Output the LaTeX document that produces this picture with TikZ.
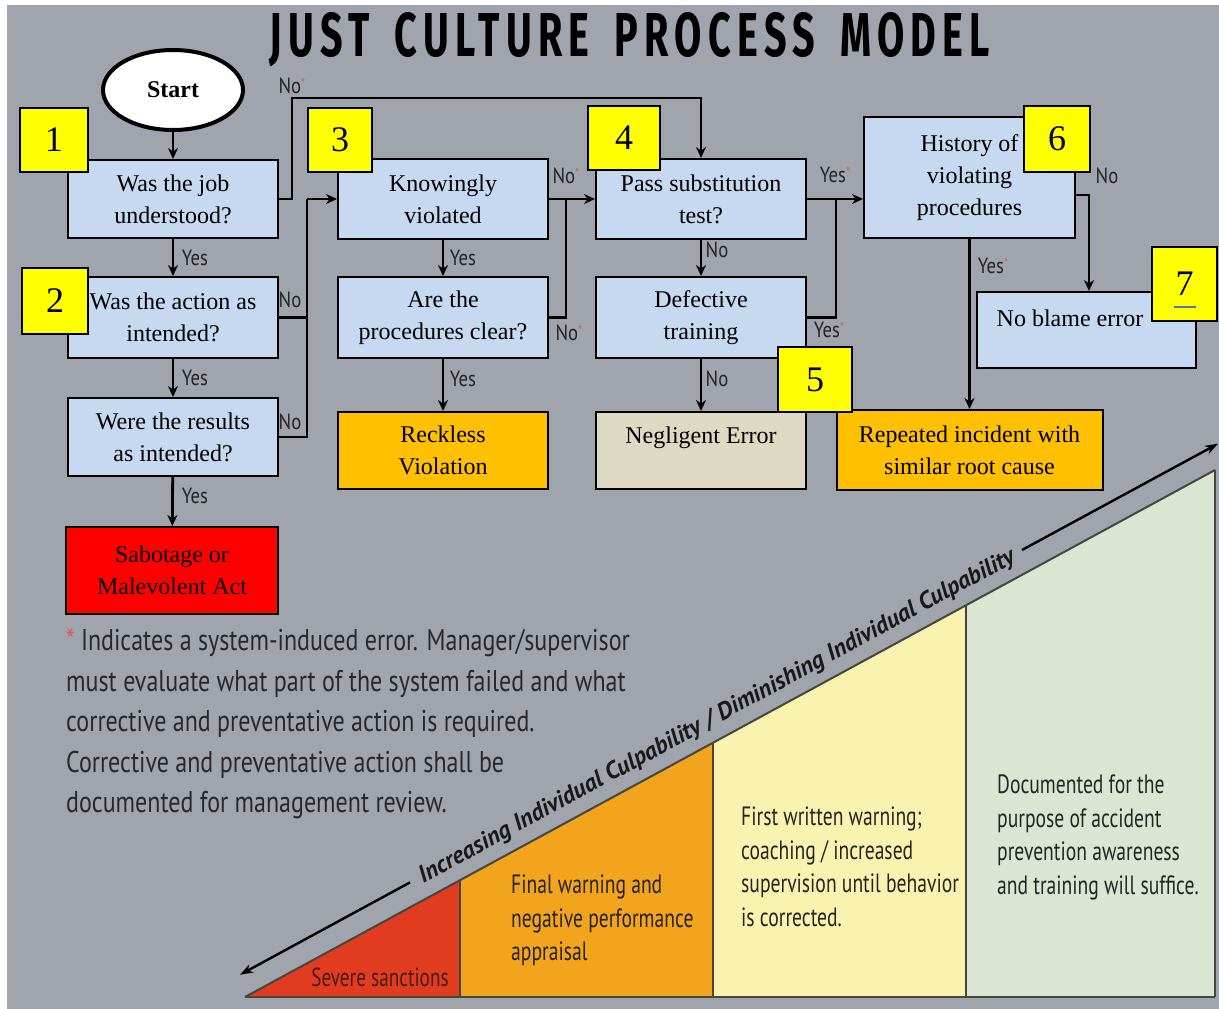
\documentclass[tikz,border=0pt]{standalone}
\usepackage{fontspec}
\usepackage{graphicx}
\setmainfont{Liberation Serif}
\newfontfamily\condsans[FakeStretch=0.8]{PT Sans}
\newfontfamily\wedgesans[FakeStretch=0.74]{PT Sans}
\newfontfamily\labsans[FakeStretch=0.85]{PT Sans}
\newfontfamily\titlesans[LetterSpace=16,WordSpace=1.6]{Fira Sans}
\newfontfamily\slantsans{PT Sans}
\usetikzlibrary{arrows.meta,shapes.geometric,calc}

\definecolor{bg}{RGB}{160,164,172}
\definecolor{qblue}{RGB}{198,217,240}
\definecolor{numyellow}{RGB}{255,255,0}
\definecolor{recorange}{RGB}{255,192,0}
\definecolor{negbeige}{RGB}{221,217,195}
\definecolor{sabred}{RGB}{255,0,0}
\definecolor{astred}{RGB}{214,96,80}
\definecolor{ynlabel}{RGB}{36,36,40}
\definecolor{foot}{RGB}{40,40,44}
\definecolor{segred}{RGB}{226,60,32}
\definecolor{segorange}{RGB}{242,164,28}
\definecolor{segyellow}{RGB}{250,243,176}
\definecolor{seggreen}{RGB}{218,230,210}
\definecolor{segline}{RGB}{70,70,60}
\definecolor{segtext}{RGB}{36,36,36}
\definecolor{sevtext}{RGB}{70,28,18}
\definecolor{ulblue}{RGB}{90,120,160}

\tikzset{
  qbox/.style={draw=black, line width=2pt, fill=qblue, align=center, inner sep=2pt,
    font=\fontsize{24}{32}\selectfont},
  numbox/.style={draw=black, line width=2pt, fill=numyellow, inner sep=0pt,
    font=\fontsize{36}{36}\selectfont},
  wire/.style={line width=2.8pt, draw=black},
  flow/.style={wire, -{Stealth[length=11pt,width=10pt]}},
  yn/.style={inner sep=0pt, text=ynlabel, font=\labsans\fontsize{22}{22}\selectfont},
  seg/.style={draw=segline, line width=1.5pt},
  segtxt/.style={anchor=north west, align=left, inner sep=0pt, text=segtext,
    font=\wedgesans\fontsize{26.5}{33.5}\selectfont},
}
\newcommand{\sysmark}{\raisebox{0.5ex}{\textcolor{astred}{\fontsize{14}{14}\selectfont*}}}

\begin{document}
\begin{tikzpicture}[x=1pt,y=-1pt]
\useasboundingbox (0,0) rectangle (1219,1009);
\fill[white] (0,0) rectangle (1219,1009);
\fill[bg] (7,5) rectangle (1219,1009);

% title
\node[inner sep=0pt] (title) at (630,40)
  {\resizebox{720pt}{44pt}{\titlesans\bfseries JUST CULTURE PROCESS MODEL}};

% start
\node[ellipse, draw=black, line width=4pt, fill=white, minimum width=140pt, minimum height=80pt,
  font=\bfseries\fontsize{24}{24}\selectfont] (start) at (173,90) {Start};

% first column
\node[qbox, minimum width=210pt, minimum height=78pt] (b1) at (173,199) {Was the job\\understood?};
\node[qbox, minimum width=210pt, minimum height=81pt] (b2) at (173,317.5) {Was the action as\\intended?};
\node[qbox, minimum width=210pt, minimum height=78pt] (b3) at (173,437) {Were the results\\as intended?};
\node[qbox, fill=sabred, minimum width=212pt, minimum height=87pt] (sab) at (172,570.5) {Sabotage or\\Malevolent Act};

% second column
\node[qbox, minimum width=210pt, minimum height=80pt] (bK) at (443,199) {Knowingly\\violated};
\node[qbox, minimum width=210pt, minimum height=81pt] (bP) at (443,317.5) {Are the\\procedures clear?};
\node[qbox, fill=recorange, minimum width=210pt, minimum height=77pt] (rec) at (443,450.5) {Reckless\\Violation};

% third column
\node[qbox, minimum width=210pt, minimum height=80pt] (b4) at (701,199) {Pass substitution\\test?};
\node[qbox, minimum width=210pt, minimum height=81pt] (def) at (701,317.5) {Defective\\training};
\node[qbox, fill=negbeige, minimum width=210pt, minimum height=77pt] (neg) at (701,450.5) {};
\node[inner sep=0pt, font=\fontsize{24}{32}\selectfont] (negtxt) at (701,438) {Negligent Error};

% fourth column
\node[qbox, minimum width=211pt, minimum height=121pt] (hist) at (969.5,177.5) {History of\\violating\\procedures};
\node[qbox, minimum width=219pt, minimum height=76pt] (nob) at (1086.5,330) {};
\node[inner sep=0pt, font=\fontsize{24}{32}\selectfont] (nobtxt) at (1070,318) {No blame error};
\node[qbox, fill=recorange, minimum width=266pt, minimum height=80pt] (rep) at (969.5,450) {Repeated incident with\\similar root cause};

% connectors
\draw[flow] (start) -- (b1);
\draw[flow] (b1) -- (b2);
\draw[flow] (b2) -- (b3);
\draw[flow] (b3) -- (sab);
\draw[flow] (b1.east) -| (292,98) -| (b4.north);
\coordinate (jA) at (307,199);
\draw[wire] (b3.east) -| (jA);
\draw[wire] (b2.east) -- (b2.east -| jA);
\draw[flow] (jA) -- (bK.west);
\draw[flow] (bK) -- (bP);
\draw[flow] (bP) -- (rec);
\draw[flow] (bK.east) -- (b4.west);
\coordinate (jB) at (566,199);
\draw[wire] (bP.east) -| (jB);
\draw[flow] (b4) -- (def);
\draw[flow] (def) -- (neg);
\draw[flow] (b4.east) -- (b4.east -| hist.west);
\coordinate (jC) at (836,199);
\draw[wire] (def.east) -| (jC);
\draw[flow] ($(hist.east)+(0,17.5)$) -| ($(nob.north west)+(113,0)$);
\draw[flow] (hist) -- (rep);

% branch labels
\node[yn] (l1) at (292,86) {No\sysmark};
\node[yn] (l2) at (195,258) {Yes};
\node[yn] (l3) at (195,378) {Yes};
\node[yn] (l4) at (195,496) {Yes};
\node[yn] (l5) at (290,300) {No};
\node[yn] (l6) at (290,422) {No};
\node[yn] (l7) at (463,258) {Yes};
\node[yn] (l8) at (463,379) {Yes};
\node[yn] (l9) at (566,176) {No\sysmark};
\node[yn] (l10) at (569,333) {No\sysmark};
\node[yn] (l11) at (717,250) {No};
\node[yn] (l12) at (717,379) {No};
\node[yn] (l13) at (835,175) {Yes\sysmark};
\node[yn] (l14) at (829,330) {Yes\sysmark};
\node[yn] (l15) at (1107,176) {No};
\node[yn] (l16) at (993,266) {Yes\sysmark};

% step numbers
\node[numbox, minimum width=68pt, minimum height=64pt] (n1) at (54,140) {1};
\node[numbox, minimum width=66pt, minimum height=66pt] (n2) at (55,301) {2};
\node[numbox, minimum width=64pt, minimum height=64pt] (n3) at (340,140) {3};
\node[numbox, minimum width=72pt, minimum height=64pt] (n4) at (624,138) {4};
\node[numbox, minimum width=74pt, minimum height=65pt] (n5) at (815,379.5) {5};
\node[numbox, minimum width=66pt, minimum height=66pt] (n6) at (1057,139) {6};
\node[numbox, minimum width=65pt, minimum height=74pt] (n7) at (1184.5,284) {7};
\draw[ulblue, line width=1.6pt] (1174,307) -- (1196,307);

% footnote
\node[anchor=north west, align=left, inner sep=0pt, text=foot,
  font=\condsans\fontsize{30}{40.5}\selectfont] (note) at (66,629)
  {\textcolor{astred}{*} Indicates a system-induced error. Manager/supervisor\\
   must evaluate what part of the system failed and what\\
   corrective and preventative action is required.\\
   Corrective and preventative action shall be\\
   documented for management review.};

% culpability wedge
\fill[segred] (245,997) -- (460,997) -- (460,880.2) -- cycle;
\fill[segorange] (460,997) -- (713,997) -- (713,742.7) -- (460,880.2) -- cycle;
\fill[segyellow] (713,997) -- (966,997) -- (966,605.3) -- (713,742.7) -- cycle;
\fill[seggreen] (966,997) -- (1215,997) -- (1215,470) -- (966,605.3) -- cycle;
\draw[seg] (460,997) -- (460,880.2);
\draw[seg] (713,997) -- (713,742.7);
\draw[seg] (966,997) -- (966,605.3);
\draw[seg] (1215,997) -- (1215,470);
\draw[segline, line width=2pt] (245,997) -- (1215,470);
\draw[segline, line width=2.5pt] (245,997) -- (1215,997);

% culpability axis
\draw[line width=2.4pt, -{Stealth[length=13pt,width=9pt]}] (410,882.4) -- (240,974.7);
\draw[line width=2.4pt, -{Stealth[length=13pt,width=9pt]}] (1022,550) -- (1218,443.7);
\node[rotate=28.5, inner sep=0pt, text=black!90] (axis) at (717,717)
  {\resizebox{675pt}{!}{\slantsans\bfseries\itshape Increasing Individual Culpability / Diminishing Individual Culpability}};

% wedge texts
\node[inner sep=0pt, text=sevtext, font=\wedgesans\fontsize{26}{30}\selectfont] (sev) at (380,977) {Severe sanctions};
\node[segtxt] (t2) at (511,875) {Final warning and\\negative performance\\appraisal};
\node[segtxt] (t3) at (741,807) {First written warning;\\coaching / increased\\supervision until behavior\\is corrected.};
\node[segtxt] (t4) at (997,775) {Documented for the\\purpose of accident\\prevention awareness\\and training will suffice.};
\end{tikzpicture}
\end{document}
